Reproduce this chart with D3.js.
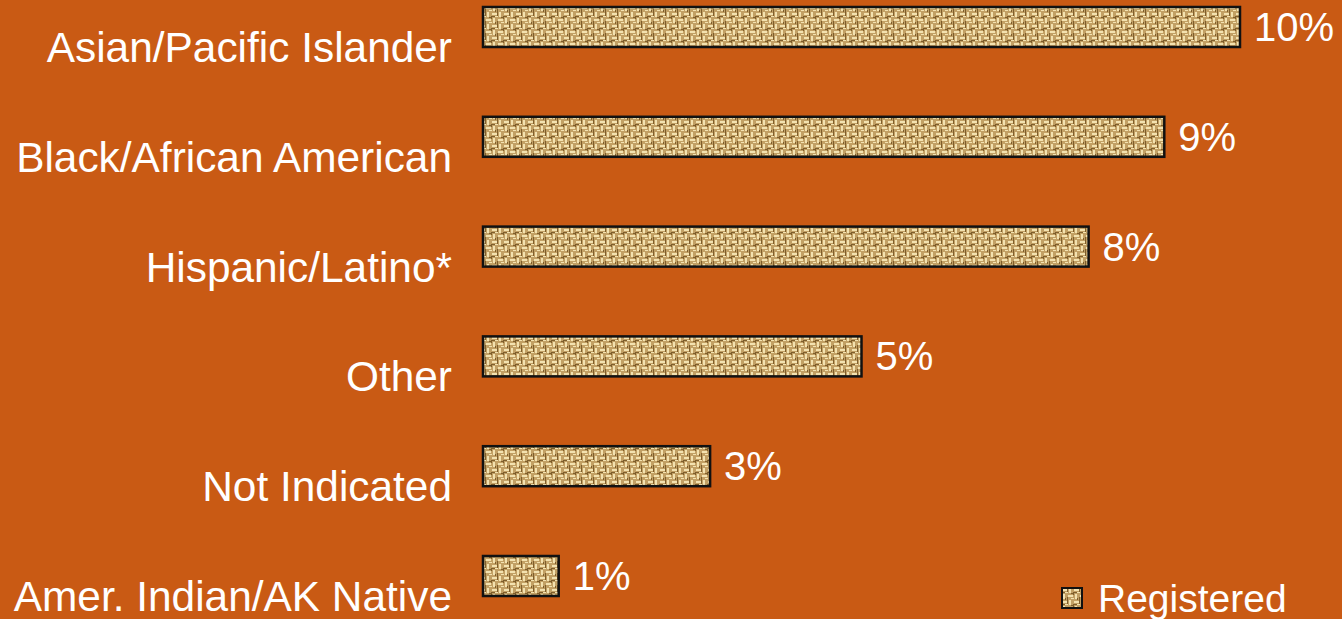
<!DOCTYPE html>
<html>
<head>
<meta charset="utf-8">
<script src="https://cdn.jsdelivr.net/npm/d3@7"></script>
<style>
  html, body { margin: 0; padding: 0; background: #C95A14; }
  svg { display: block; }
  text { font-family: "Liberation Sans", Arial, sans-serif; fill: #fff; }
</style>
</head>
<body>
<div id="chart"></div>
<script>
var categories = ["Asian/Pacific Islander", "Black/African American", "Hispanic/Latino*", "Other", "Not Indicated", "Amer. Indian/AK Native"];
var values = [10, 9, 8, 5, 3, 1];
var valueLabels = ["10%", "9%", "8%", "5%", "3%", "1%"];
var seriesName = "Registered";

var width = 1342, height = 619;

var svg = d3.select("#chart").append("svg")
    .attr("width", width)
    .attr("height", height);

svg.append("rect").attr("width", width).attr("height", height).attr("fill", "#C95A14");

// burlap-ish texture for the bars
var defs = svg.append("defs");
var pat = defs.append("pattern")
    .attr("id", "burlap")
    .attr("patternUnits", "userSpaceOnUse")
    .attr("width", 12).attr("height", 12);
pat.append("rect").attr("width", 12).attr("height", 12).attr("fill", "#c2a064");
var light = [[0,1,5,2],[6,7,5,2],[7,0,2,5],[1,6,2,5],[3,4,3,1],[9,10,3,1]];
light.forEach(function (r) {
  pat.append("rect").attr("x", r[0]).attr("y", r[1]).attr("width", r[2]).attr("height", r[3]).attr("fill", "#f3e2b0");
});
var dark = [[5,0,1,4],[0,4,3,1],[11,4,1,3],[5,9,1,3],[9,5,2,1],[3,10,1,2]];
dark.forEach(function (r) {
  pat.append("rect").attr("x", r[0]).attr("y", r[1]).attr("width", r[2]).attr("height", r[3]).attr("fill", "#7e5e2c");
});

var x = d3.scaleLinear().domain([0, 10]).range([483, 1240]);
var y = d3.scalePoint().domain(categories).range([27, 576]);
var barH = 40;

var rows = svg.selectAll("g.row")
    .data(categories)
    .enter().append("g")
    .attr("class", "row");

rows.append("rect")
    .attr("x", x(0))
    .attr("y", function (d) { return y(d) - barH / 2; })
    .attr("width", function (d, i) { return x(values[i]) - x(0); })
    .attr("height", barH)
    .attr("fill", "url(#burlap)")
    .attr("stroke", "#111")
    .attr("stroke-width", 2.5);

rows.append("text")
    .attr("x", 452)
    .attr("y", function (d) { return y(d) + 35; })
    .attr("text-anchor", "end")
    .attr("font-size", 42.4)
    .text(function (d) { return d; });

rows.append("text")
    .attr("x", function (d, i) { return x(values[i]) + 14; })
    .attr("y", function (d) { return y(d) + 14; })
    .attr("font-size", 40)
    .text(function (d, i) { return valueLabels[i]; });

// legend
var legend = svg.append("g").attr("transform", "translate(1062,588)");
legend.append("rect")
    .attr("width", 20).attr("height", 20)
    .attr("fill", "url(#burlap)")
    .attr("stroke", "#111")
    .attr("stroke-width", 2);
legend.append("text")
    .attr("x", 36)
    .attr("y", 24)
    .attr("font-size", 39)
    .text(seriesName);
</script>
</body>
</html>
